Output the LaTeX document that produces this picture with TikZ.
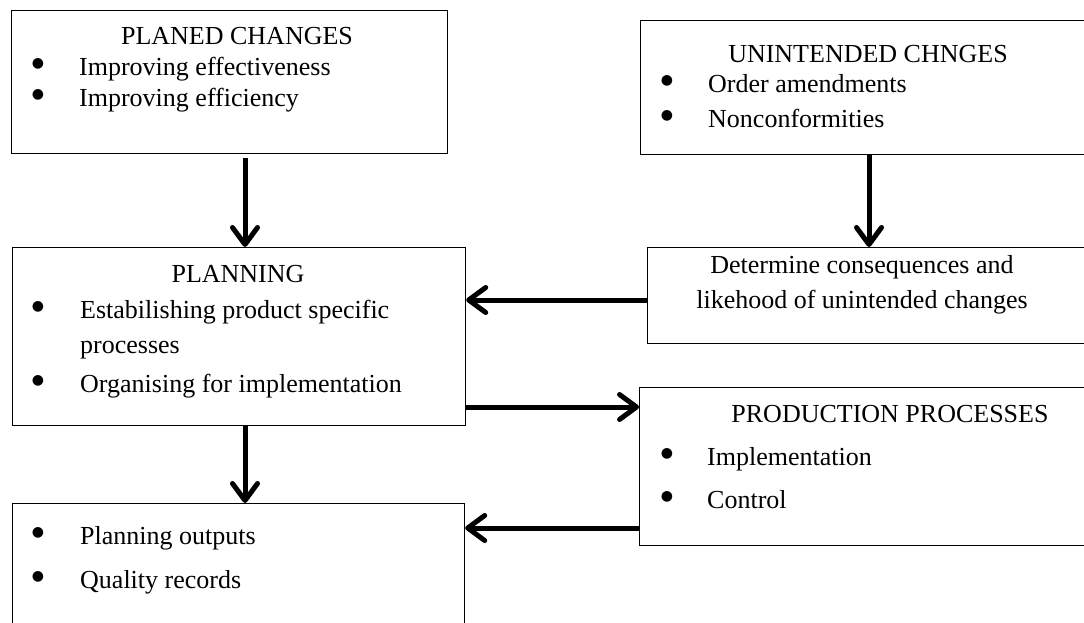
\documentclass[tikz,border=0pt]{standalone}
\usepackage{fontspec}
\setmainfont{Liberation Serif}
\newfontfamily\symfont{DejaVu Sans}
\usetikzlibrary{arrows.meta}
\begin{document}
\begin{tikzpicture}[x=1pt,y=-1pt,
  box/.style={draw=black,line width=1.2pt,rectangle,inner sep=0pt,anchor=north west},
  txt/.style={inner sep=0pt,anchor=base west,font=\fontsize{26}{32}\selectfont},
  ctxt/.style={inner sep=0pt,anchor=base,font=\fontsize{26}{32}\selectfont},
  bul/.style={inner sep=0pt,anchor=base,font=\symfont\fontsize{14}{14}\selectfont,yshift=8pt},
  arr/.style={line width=5pt,-{Straight Barb[length=17pt,width=25pt,round]}}]
\useasboundingbox (0,0) rectangle (1084,623);
\clip (0,0) rectangle (1084,623);
% boxes
\node[box,minimum width=436pt,minimum height=143pt] (b1) at (11,10) {};
\node[box,minimum width=460pt,minimum height=134pt] (b2) at (640,20) {};
\node[box,minimum width=453pt,minimum height=96pt] (b3) at (647,247) {};
\node[box,minimum width=453pt,minimum height=178pt] (b4) at (12,247) {};
\node[box,minimum width=461pt,minimum height=158pt] (b5) at (639,387) {};
\node[box,minimum width=452pt,minimum height=140pt] (b6) at (12,503) {};
% box 1
\node[ctxt] (t1) at (237,44.5) {PLANED CHANGES};
\node[bul] (t1b1) at (38,76) {●};
\node[txt] (t1a) at (79,76) {Improving effectiveness};
\node[bul] (t1b2) at (38,107) {●};
\node[txt] (t1c) at (79,107) {Improving efficiency};
% box 2
\node[ctxt] (t2) at (868,63) {UNINTENDED CHNGES};
\node[bul] (t2b1) at (667,93) {●};
\node[txt] (t2a) at (708,93) {Order amendments};
\node[bul] (t2b2) at (667,128) {●};
\node[txt] (t2c) at (708,128) {Nonconformities};
% box 3
\node[ctxt] (t3a) at (862,273) {Determine consequences and};
\node[ctxt] (t3b) at (862,308) {likehood of unintended changes};
% box 4
\node[ctxt] (t4) at (238,282) {PLANNING};
\node[bul] (t4b1) at (38,318) {●};
\node[txt] (t4a) at (80,318) {Estabilishing product specific};
\node[txt] (t4a2) at (80,353) {processes};
\node[bul] (t4b2) at (38,392) {●};
\node[txt] (t4c) at (80,392) {Organising for implementation};
% box 5
\node[ctxt] (t5) at (890,422) {PRODUCTION PROCESSES};
\node[bul] (t5b1) at (667,465) {●};
\node[txt] (t5a) at (707,465) {Implementation};
\node[bul] (t5b2) at (667,508) {●};
\node[txt] (t5c) at (707,508) {Control};
% box 6
\node[bul] (t6b1) at (38,544) {●};
\node[txt] (t6a) at (80,544) {Planning outputs};
\node[bul] (t6b2) at (38,588) {●};
\node[txt] (t6c) at (80,588) {Quality records};
% connectors
\draw[arr,shorten <=4pt] (245,0 |- b1.south) -- (245,0 |- b4.north);
\draw[arr] (869,0 |- b2.south) -- (869,0 |- b3.north);
\draw[arr] (b3.west |- 0,300) -- (b4.east |- 0,300);
\draw[arr] (b4.east |- 0,407) -- (b5.west |- 0,407);
\draw[arr] (245,0 |- b4.south) -- (245,0 |- b6.north);
\draw[arr] (b5.west |- 0,528) -- (b6.east |- 0,528);
\end{tikzpicture}
\end{document}
